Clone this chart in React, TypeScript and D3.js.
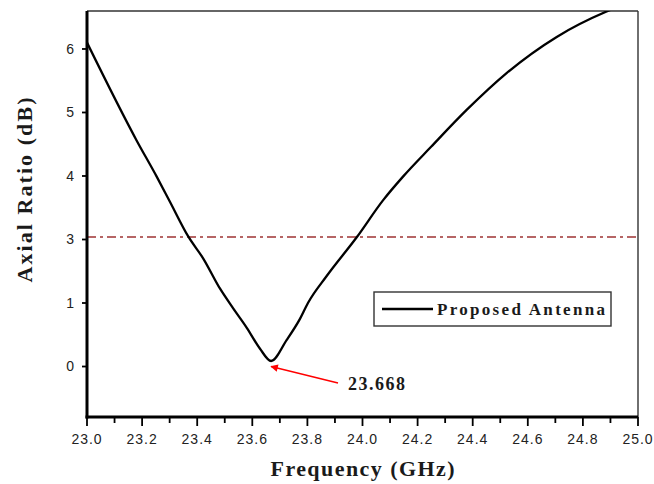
import React from "react";
import * as d3 from "d3";

// ---- data ----
const freq = [23.0, 23.18, 23.253, 23.301, 23.368, 23.422, 23.483, 23.53, 23.58, 23.628, 23.668, 23.725, 23.773, 23.802, 23.87, 23.979, 24.075, 24.147, 24.249, 24.378, 24.523, 24.705, 24.886, 24.95];
const axialRatio = [6.1, 4.56, 3.99, 3.595, 3.044, 2.4, 1.45, 0.92, 0.61, 0.28, 0.087, 0.42, 0.75, 1.0, 1.85, 3.035, 3.62, 3.99, 4.46, 5.04, 5.62, 6.19, 6.59, 6.7];
const xTicks = [23.0, 23.2, 23.4, 23.6, 23.8, 24.0, 24.2, 24.4, 24.6, 24.8, 25.0];
const xMinorTicks = [23.1, 23.3, 23.5, 23.7, 23.9, 24.1, 24.3, 24.5, 24.7, 24.9];
const yTickLabels = [0, 1, 3, 4, 5, 6];
const thresholdDb = 3.04;
const minFreq = 23.668;
const arrowTail = { x: 23.911, y: -0.26 };
const arrowTip = { x: 23.668, y: 0.0 };
const legendLabel = "Proposed Antenna";
const xLabel = "Frequency (GHz)";
const yLabel = "Axial Ratio (dB)";

const W = 654, H = 484;
const m = { left: 87, top: 11, right: 16, bottom: 67 };
const iw = W - m.left - m.right;
const ih = H - m.top - m.bottom;

export default function App() {
  const x = d3.scaleLinear().domain([23.0, 25.0]).range([0, iw]);
  // evenly spaced tick positions (axis as printed: 0,1,3,4,5,6)
  const idx = d3.scaleLinear().domain([-0.795, 5.598]).range([ih, 0]);
  const y = d3.scaleLinear()
    .domain([-1, ...yTickLabels, 7])
    .range([idx(-1), ...yTickLabels.map((_, i) => idx(i)), idx(6)]);

  const line = d3.line<number>()
    .x((_, i) => x(freq[i]))
    .y((d) => y(d))
    .curve(d3.curveMonotoneX);

  const tickFont = "Arial, 'Liberation Sans', sans-serif";
  const serif = "'Times New Roman', 'Liberation Serif', serif";

  return (
    <svg width={W} height={H} style={{ position: "absolute", left: 0, top: 0, background: "#fff" }}>
      <defs>
        <clipPath id="plotclip">
          <rect x={0} y={0} width={iw} height={ih} />
        </clipPath>
        <marker id="arr" viewBox="0 0 10 10" refX="9" refY="5" markerWidth="6" markerHeight="5" orient="auto">
          <path d="M0,0 L10,5 L0,10 z" fill="#ff0000" />
        </marker>
      </defs>
      <g transform={`translate(${m.left},${m.top})`}>
        {/* frame top & right */}
        <line x1={0} x2={iw} y1={0} y2={0} stroke="#333" strokeWidth={1.4} />
        <line x1={iw} x2={iw} y1={0} y2={ih} stroke="#333" strokeWidth={1.4} />

        {/* threshold line */}
        <line x1={0} x2={iw} y1={y(thresholdDb)} y2={y(thresholdDb)} stroke="#9e3333" strokeWidth={1.6} strokeDasharray="9,4,3,4" />

        {/* curve */}
        <path d={line(axialRatio) || ""} fill="none" stroke="#000" strokeWidth={2.3} strokeLinejoin="round" clipPath="url(#plotclip)" />

        {/* arrow annotation */}
        <line x1={x(arrowTail.x)} y1={y(arrowTail.y)} x2={x(arrowTip.x)} y2={y(arrowTip.y)} stroke="#ff0000" strokeWidth={1.5} markerEnd="url(#arr)" />
        <text x={x(arrowTail.x) + 10} y={y(arrowTail.y) + 7} fontFamily={serif} fontWeight="bold" fontSize={18} textLength={57} lengthAdjust="spacing" fill="#1a1a1a">
          {minFreq.toFixed(3)}
        </text>

        {/* legend */}
        <rect x={287} y={281} width={237} height={34} fill="#fff" stroke="#333" strokeWidth={1.4} />
        <line x1={295} x2={346} y1={298} y2={298} stroke="#000" strokeWidth={2.5} />
        <text x={350} y={304} fontFamily={serif} fontWeight="bold" fontSize={17} textLength={168} lengthAdjust="spacing" fill="#1a1a1a">
          {legendLabel}
        </text>

        {/* x axis */}
        <line x1={-1.5} x2={iw} y1={ih} y2={ih} stroke="#000" strokeWidth={3} />
        {xTicks.map((t) => (
          <g key={"xt" + t} transform={`translate(${x(t)},${ih})`}>
            <line y1={0} y2={9} stroke="#000" strokeWidth={1.8} />
            <text y={27} textAnchor="middle" fontFamily={tickFont} fontSize={14} letterSpacing={1} fill="#222">
              {t.toFixed(1)}
            </text>
          </g>
        ))}
        {xMinorTicks.map((t) => (
          <line key={"xm" + t} x1={x(t)} x2={x(t)} y1={ih} y2={ih + 6} stroke="#000" strokeWidth={1.8} />
        ))}

        {/* y axis */}
        <line x1={0} x2={0} y1={0} y2={ih + 1.5} stroke="#000" strokeWidth={3} />
        {yTickLabels.map((t) => (
          <g key={"yt" + t} transform={`translate(0,${y(t)})`}>
            <line x1={-5} x2={0} stroke="#000" strokeWidth={1.8} />
            <text x={-13} dy="0.35em" textAnchor="end" fontFamily={tickFont} fontSize={14} fill="#222">
              {t}
            </text>
          </g>
        ))}
      </g>

      {/* axis titles */}
      <text x={m.left + iw / 2} y={476} textAnchor="middle" fontFamily={serif} fontWeight="bold" fontSize={22} textLength={184} lengthAdjust="spacing" fill="#1a1a1a">
        {xLabel}
      </text>
      <text transform={`translate(32,190) rotate(-90)`} textAnchor="middle" fontFamily={serif} fontWeight="bold" fontSize={22} textLength={185} lengthAdjust="spacing" fill="#1a1a1a">
        {yLabel}
      </text>
    </svg>
  );
}
